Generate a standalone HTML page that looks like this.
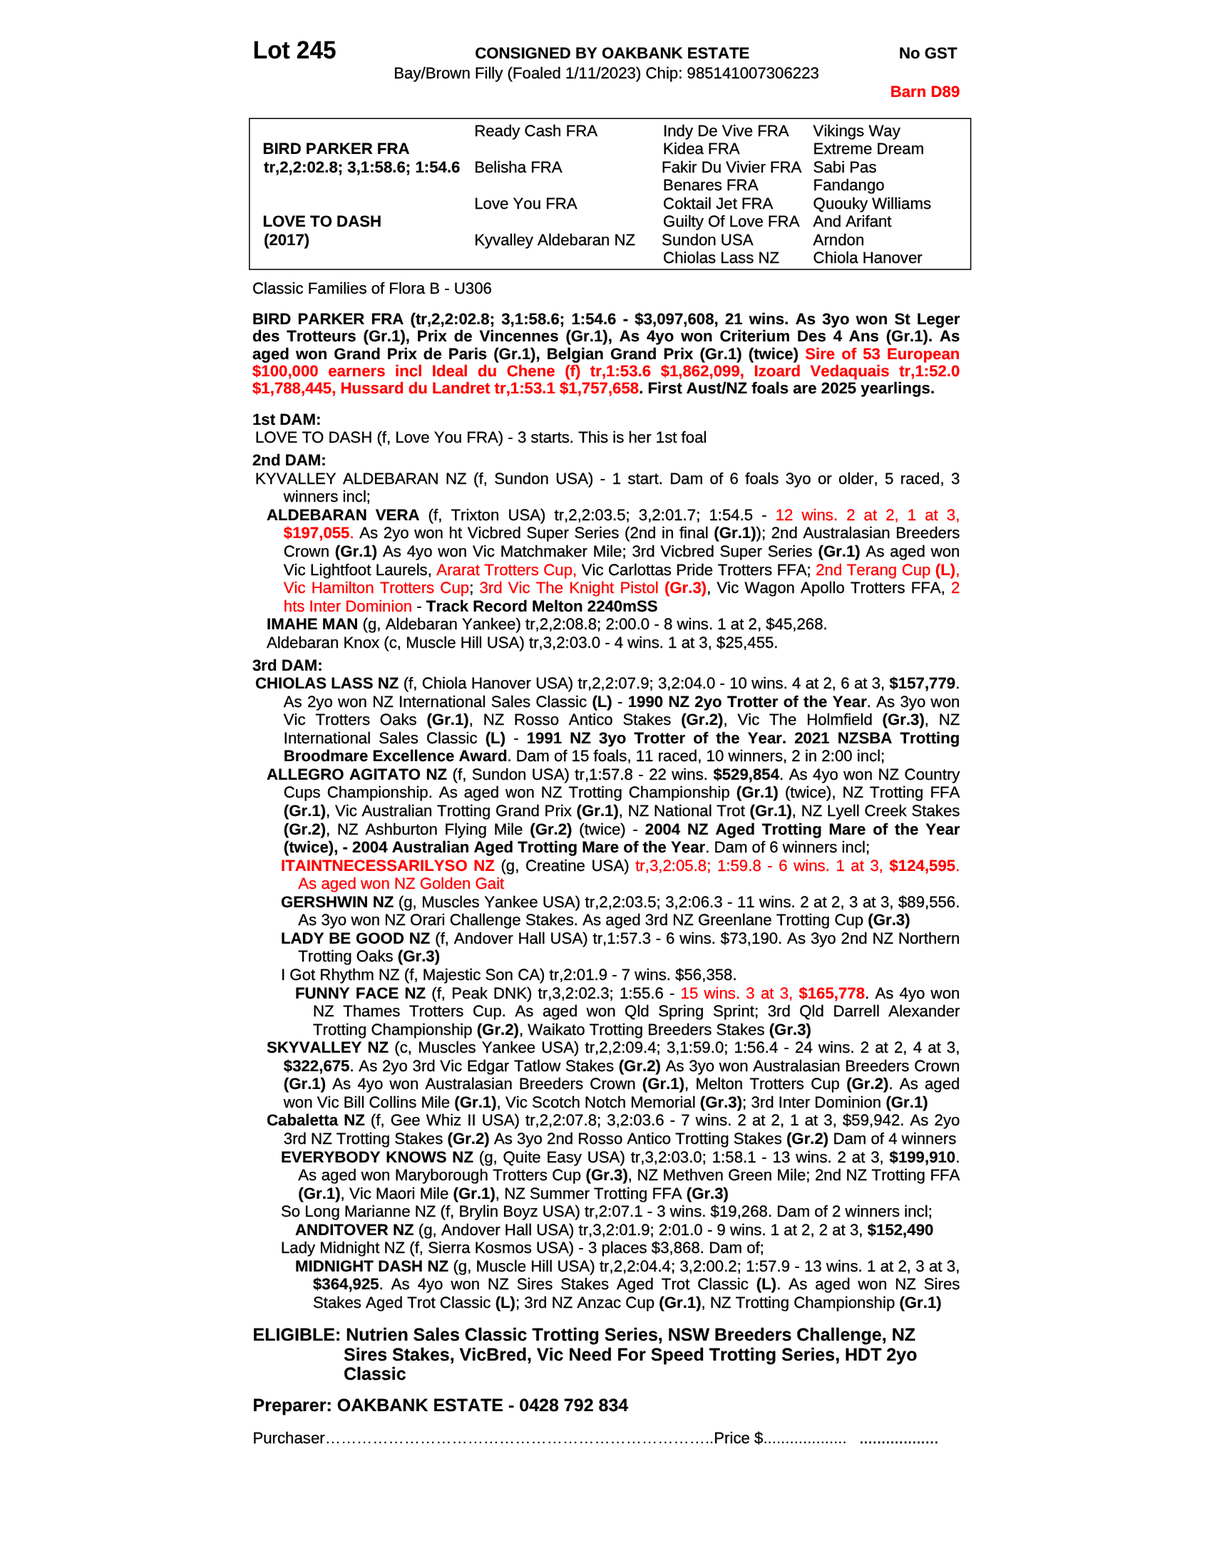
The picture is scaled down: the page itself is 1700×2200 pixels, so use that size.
<!DOCTYPE html>
<html lang="en">
<head>
<meta charset="utf-8">
<title>Lot 245 - Bay/Brown Filly - Consigned by Oakbank Estate</title>
<style>
html,body{margin:0;padding:0;background:#fff;}
body{width:1700px;height:2200px;position:relative;overflow:hidden;
 font-family:"Liberation Sans",sans-serif;font-size:22.2222px;color:#000;
 font-kerning:none;font-variant-ligatures:none;-webkit-font-smoothing:antialiased;text-rendering:geometricPrecision;}
#page{position:absolute;left:0;top:0;width:1700px;height:2200px;will-change:transform;}
.l{position:absolute;white-space:pre;line-height:30px;height:30px;margin:0;-webkit-text-stroke:0.3px;}
b{font-weight:bold;-webkit-text-stroke:0.2px;}
.r{color:#f00;}
.d{-webkit-text-stroke:0;}
.e{-webkit-text-stroke:0.4px;}
svg.box{position:absolute;left:0;top:0;width:1700px;height:420px;overflow:visible;pointer-events:none;}
</style>
</head>
<body>
<div id="page">
<svg class="box" width="1700" height="420" viewBox="0 0 1700 420"><rect x="349.83" y="166.25" width="1011.77" height="211.75" fill="none" stroke="#000" stroke-width="1.50"/></svg>
<div class="l" id="l0" style="left:354.80px;top:50px;font-size:33.3333px;line-height:44px;height:44px;transform:scaleY(1.05);transform-origin:0 32px;"><b>Lot 245</b></div>
<div class="l" id="l1" style="left:666.20px;top:60px;"><b>CONSIGNED BY OAKBANK ESTATE</b></div>
<div class="l" id="l2" style="left:1261.00px;top:60px;"><b>No GST</b></div>
<div class="l" id="l3" style="left:552.30px;top:88px;">Bay/Brown Filly (Foaled 1/11/2023) Chip: 985141007306223</div>
<div class="l" id="l4" style="left:1248.70px;top:114px;"><b class="r">Barn D89</b></div>
<div class="l" id="l5" style="left:368.40px;top:194px;"><b>BIRD PARKER FRA</b></div>
<div class="l" id="l6" style="left:370.00px;top:220px;"><b>tr,2,2:02.8; 3,1:58.6; 1:54.6</b></div>
<div class="l" id="l7" style="left:368.40px;top:296px;"><b>LOVE TO DASH</b></div>
<div class="l" id="l8" style="left:370.00px;top:322px;"><b>(2017)</b></div>
<div class="l" id="l9" style="left:665.20px;top:169px;">Ready Cash FRA</div>
<div class="l" id="l10" style="left:665.20px;top:220px;">Belisha FRA</div>
<div class="l" id="l11" style="left:665.20px;top:271px;">Love You FRA</div>
<div class="l" id="l12" style="left:665.20px;top:322px;">Kyvalley Aldebaran NZ</div>
<div class="l" id="l13" style="left:930.10px;top:169px;">Indy De Vive FRA</div>
<div class="l" id="l14" style="left:930.10px;top:194px;">Kidea FRA</div>
<div class="l" id="l15" style="left:928.10px;top:220px;">Fakir Du Vivier FRA</div>
<div class="l" id="l16" style="left:930.10px;top:245px;">Benares FRA</div>
<div class="l" id="l17" style="left:930.10px;top:271px;">Coktail Jet FRA</div>
<div class="l" id="l18" style="left:930.10px;top:296px;">Guilty Of Love FRA</div>
<div class="l" id="l19" style="left:928.10px;top:322px;">Sundon USA</div>
<div class="l" id="l20" style="left:930.10px;top:347px;">Chiolas Lass NZ</div>
<div class="l" id="l21" style="left:1140.60px;top:169px;">Vikings Way</div>
<div class="l" id="l22" style="left:1140.60px;top:194px;">Extreme Dream</div>
<div class="l" id="l23" style="left:1140.60px;top:220px;">Sabi Pas</div>
<div class="l" id="l24" style="left:1140.60px;top:245px;">Fandango</div>
<div class="l" id="l25" style="left:1140.60px;top:271px;">Quouky Williams</div>
<div class="l" id="l26" style="left:1140.60px;top:296px;">And Arifant</div>
<div class="l" id="l27" style="left:1140.60px;top:322px;">Arndon</div>
<div class="l" id="l28" style="left:1140.60px;top:347px;">Chiola Hanover</div>
<div class="l" id="l29" style="left:354.00px;top:390px;">Classic Families of Flora B - U306</div>
<div class="l" id="l30" style="left:354.00px;top:433px;word-spacing:3.058px;"><b>BIRD PARKER FRA (tr,2,2:02.8; 3,1:58.6; 1:54.6 - $3,097,608, 21 wins. As 3yo won St Leger</b></div>
<div class="l" id="l31" style="left:354.00px;top:457px;word-spacing:3.684px;"><b>des Trotteurs (Gr.1), Prix de Vincennes (Gr.1), As 4yo won Criterium Des 4 Ans (Gr.1). As</b></div>
<div class="l" id="l32" style="left:354.00px;top:482px;word-spacing:2.861px;"><b>aged won Grand Prix de Paris (Gr.1), Belgian Grand Prix (Gr.1) (twice) </b><b class="r">Sire of 53 European</b></div>
<div class="l" id="l33" style="left:354.00px;top:506px;word-spacing:7.363px;"><b class="r">$100,000 earners incl Ideal du Chene (f) tr,1:53.6 $1,862,099, Izoard Vedaquais tr,1:52.0</b></div>
<div class="l" id="l34" style="left:354.00px;top:530px;"><b class="r">$1,788,445, Hussard du Landret tr,1:53.1 $1,757,658</b><b>. First Aust/NZ foals are 2025 yearlings.</b></div>
<div class="l" id="l35" style="left:354.00px;top:574px;"><b>1st DAM:</b></div>
<div class="l" id="l36" style="left:358.00px;top:599px;">LOVE TO DASH (f, Love You FRA) - 3 starts. This is her 1st foal</div>
<div class="l" id="l37" style="left:354.00px;top:631px;"><b>2nd DAM:</b></div>
<div class="l" id="l38" style="left:358.00px;top:657px;word-spacing:3.251px;">KYVALLEY ALDEBARAN NZ (f, Sundon USA) - 1 start. Dam of 6 foals 3yo or older, 5 raced, 3</div>
<div class="l" id="l39" style="left:397.80px;top:682px;">winners incl;</div>
<div class="l" id="l40" style="left:374.00px;top:708px;word-spacing:5.899px;"><b>ALDEBARAN VERA</b> (f, Trixton USA) tr,2,2:03.5; 3,2:01.7; 1:54.5 - <span class="r">12 wins. 2 at 2, 1 at 3,</span></div>
<div class="l" id="l41" style="left:397.80px;top:733px;word-spacing:1.413px;"><b class="r">$197,055</b><span class="r">.</span> As 2yo won ht Vicbred Super Series (2nd in final <b>(Gr.1)</b>); 2nd Australasian Breeders</div>
<div class="l" id="l42" style="left:397.80px;top:759px;word-spacing:1.659px;">Crown <b>(Gr.1)</b> As 4yo won Vic Matchmaker Mile; 3rd Vicbred Super Series <b>(Gr.1)</b> As aged won</div>
<div class="l" id="l43" style="left:397.80px;top:785px;word-spacing:0.281px;">Vic Lightfoot Laurels, <span class="r">Ararat Trotters Cup,</span> Vic Carlottas Pride Trotters FFA; <span class="r">2nd Terang Cup </span><b class="r">(L)</b><span class="r">,</span></div>
<div class="l" id="l44" style="left:397.80px;top:810px;word-spacing:1.991px;"><span class="r">Vic Hamilton Trotters Cup</span>; <span class="r">3rd Vic The Knight Pistol </span><b class="r">(Gr.3)</b>, Vic Wagon Apollo Trotters FFA, <span class="r">2</span></div>
<div class="l" id="l45" style="left:397.80px;top:836px;"><span class="r">hts Inter Dominion</span> - <b>Track Record Melton 2240mSS</b></div>
<div class="l" id="l46" style="left:374.00px;top:861px;"><b>IMAHE MAN</b> (g, Aldebaran Yankee) tr,2,2:08.8; 2:00.0 - 8 wins. 1 at 2, $45,268.</div>
<div class="l" id="l47" style="left:374.00px;top:887px;">Aldebaran Knox (c, Muscle Hill USA) tr,3,2:03.0 - 4 wins. 1 at 3, $25,455.</div>
<div class="l" id="l48" style="left:354.00px;top:919px;"><b>3rd DAM:</b></div>
<div class="l" id="l49" style="left:358.00px;top:944px;word-spacing:0.091px;"><b>CHIOLAS LASS NZ</b> (f, Chiola Hanover USA) tr,2,2:07.9; 3,2:04.0 - 10 wins. 4 at 2, 6 at 3, <b>$157,779</b>.</div>
<div class="l" id="l50" style="left:397.80px;top:970px;word-spacing:1.110px;">As 2yo won NZ International Sales Classic <b>(L)</b> - <b>1990 NZ 2yo Trotter of the Year</b>. As 3yo won</div>
<div class="l" id="l51" style="left:397.80px;top:995px;word-spacing:7.622px;">Vic Trotters Oaks <b>(Gr.1)</b>, NZ Rosso Antico Stakes <b>(Gr.2)</b>, Vic The Holmfield <b>(Gr.3)</b>, NZ</div>
<div class="l" id="l52" style="left:397.80px;top:1021px;word-spacing:4.963px;">International Sales Classic <b>(L)</b> - <b>1991 NZ 3yo Trotter of the Year. 2021 NZSBA Trotting</b></div>
<div class="l" id="l53" style="left:397.80px;top:1046px;"><b>Broodmare Excellence Award</b>. Dam of 15 foals, 11 raced, 10 winners, 2 in 2:00 incl;</div>
<div class="l" id="l54" style="left:374.00px;top:1072px;word-spacing:1.274px;"><b>ALLEGRO AGITATO NZ</b> (f, Sundon USA) tr,1:57.8 - 22 wins. <b>$529,854</b>. As 4yo won NZ Country</div>
<div class="l" id="l55" style="left:397.80px;top:1097px;word-spacing:2.797px;">Cups Championship. As aged won NZ Trotting Championship <b>(Gr.1)</b> (twice), NZ Trotting FFA</div>
<div class="l" id="l56" style="left:397.80px;top:1123px;word-spacing:0.548px;"><b>(Gr.1)</b>, Vic Australian Trotting Grand Prix <b>(Gr.1)</b>, NZ National Trot <b>(Gr.1)</b>, NZ Lyell Creek Stakes</div>
<div class="l" id="l57" style="left:397.80px;top:1149px;word-spacing:3.647px;"><b>(Gr.2)</b>, NZ Ashburton Flying Mile <b>(Gr.2)</b> (twice) - <b>2004 NZ Aged Trotting Mare of the Year</b></div>
<div class="l" id="l58" style="left:397.80px;top:1174px;"><b>(twice), - 2004 Australian Aged Trotting Mare of the Year</b>. Dam of 6 winners incl;</div>
<div class="l" id="l59" style="left:394.00px;top:1200px;word-spacing:2.394px;"><b class="r">ITAINTNECESSARILYSO NZ</b> (g, Creatine USA) <span class="r">tr,3,2:05.8; 1:59.8 - 6 wins. 1 at 3, </span><b class="r">$124,595</b><span class="r">.</span></div>
<div class="l" id="l60" style="left:418.30px;top:1225px;"><span class="r">As aged won NZ Golden Gait</span></div>
<div class="l" id="l61" style="left:394.00px;top:1251px;word-spacing:0.305px;"><b>GERSHWIN NZ</b> (g, Muscles Yankee USA) tr,2,2:03.5; 3,2:06.3 - 11 wins. 2 at 2, 3 at 3, $89,556.</div>
<div class="l" id="l62" style="left:418.30px;top:1276px;">As 3yo won NZ Orari Challenge Stakes. As aged 3rd NZ Greenlane Trotting Cup <b>(Gr.3)</b></div>
<div class="l" id="l63" style="left:394.00px;top:1302px;word-spacing:0.673px;"><b>LADY BE GOOD NZ</b> (f, Andover Hall USA) tr,1:57.3 - 6 wins. $73,190. As 3yo 2nd NZ Northern</div>
<div class="l" id="l64" style="left:418.30px;top:1327px;">Trotting Oaks <b>(Gr.3)</b></div>
<div class="l" id="l65" style="left:394.00px;top:1353px;">I Got Rhythm NZ (f, Majestic Son CA) tr,2:01.9 - 7 wins. $56,358.</div>
<div class="l" id="l66" style="left:414.00px;top:1379px;word-spacing:2.034px;"><b>FUNNY FACE NZ</b> (f, Peak DNK) tr,3,2:02.3; 1:55.6 - <span class="r">15 wins. 3 at 3, </span><b class="r">$165,778</b>. As 4yo won</div>
<div class="l" id="l67" style="left:439.00px;top:1404px;word-spacing:6.346px;">NZ Thames Trotters Cup. As aged won Qld Spring Sprint; 3rd Qld Darrell Alexander</div>
<div class="l" id="l68" style="left:439.00px;top:1430px;">Trotting Championship <b>(Gr.2)</b>, Waikato Trotting Breeders Stakes <b>(Gr.3)</b></div>
<div class="l" id="l69" style="left:374.00px;top:1455px;word-spacing:1.990px;"><b>SKYVALLEY NZ</b> (c, Muscles Yankee USA) tr,2,2:09.4; 3,1:59.0; 1:56.4 - 24 wins. 2 at 2, 4 at 3,</div>
<div class="l" id="l70" style="left:397.80px;top:1481px;word-spacing:0.536px;"><b>$322,675</b>. As 2yo 3rd Vic Edgar Tatlow Stakes <b>(Gr.2)</b> As 3yo won Australasian Breeders Crown</div>
<div class="l" id="l71" style="left:397.80px;top:1506px;word-spacing:3.053px;"><b>(Gr.1)</b> As 4yo won Australasian Breeders Crown <b>(Gr.1)</b>, Melton Trotters Cup <b>(Gr.2)</b>. As aged</div>
<div class="l" id="l72" style="left:397.80px;top:1532px;">won Vic Bill Collins Mile <b>(Gr.1)</b>, Vic Scotch Notch Memorial <b>(Gr.3)</b>; 3rd Inter Dominion <b>(Gr.1)</b></div>
<div class="l" id="l73" style="left:374.00px;top:1557px;word-spacing:1.938px;"><b>Cabaletta NZ</b> (f, Gee Whiz II USA) tr,2,2:07.8; 3,2:03.6 - 7 wins. 2 at 2, 1 at 3, $59,942. As 2yo</div>
<div class="l" id="l74" style="left:397.80px;top:1583px;">3rd NZ Trotting Stakes <b>(Gr.2)</b> As 3yo 2nd Rosso Antico Trotting Stakes <b>(Gr.2)</b> Dam of 4 winners</div>
<div class="l" id="l75" style="left:394.00px;top:1609px;word-spacing:1.663px;"><b>EVERYBODY KNOWS NZ</b> (g, Quite Easy USA) tr,3,2:03.0; 1:58.1 - 13 wins. 2 at 3, <b>$199,910</b>.</div>
<div class="l" id="l76" style="left:418.30px;top:1634px;word-spacing:0.315px;">As aged won Maryborough Trotters Cup <b>(Gr.3)</b>, NZ Methven Green Mile; 2nd NZ Trotting FFA</div>
<div class="l" id="l77" style="left:418.30px;top:1660px;"><b>(Gr.1)</b>, Vic Maori Mile <b>(Gr.1)</b>, NZ Summer Trotting FFA <b>(Gr.3)</b></div>
<div class="l" id="l78" style="left:394.00px;top:1685px;">So Long Marianne NZ (f, Brylin Boyz USA) tr,2:07.1 - 3 wins. $19,268. Dam of 2 winners incl;</div>
<div class="l" id="l79" style="left:414.00px;top:1711px;"><b>ANDITOVER NZ</b> (g, Andover Hall USA) tr,3,2:01.9; 2:01.0 - 9 wins. 1 at 2, 2 at 3, <b>$152,490</b></div>
<div class="l" id="l80" style="left:394.00px;top:1736px;">Lady Midnight NZ (f, Sierra Kosmos USA) - 3 places $3,868. Dam of;</div>
<div class="l" id="l81" style="left:414.00px;top:1762px;word-spacing:0.142px;"><b>MIDNIGHT DASH NZ</b> (g, Muscle Hill USA) tr,2,2:04.4; 3,2:00.2; 1:57.9 - 13 wins. 1 at 2, 3 at 3,</div>
<div class="l" id="l82" style="left:439.00px;top:1787px;word-spacing:4.757px;"><b>$364,925</b>. As 4yo won NZ Sires Stakes Aged Trot Classic <b>(L)</b>. As aged won NZ Sires</div>
<div class="l" id="l83" style="left:439.00px;top:1813px;">Stakes Aged Trot Classic <b>(L)</b>; 3rd NZ Anzac Cup <b>(Gr.1)</b>, NZ Trotting Championship <b>(Gr.1)</b></div>
<div class="l" id="l84" style="left:354.60px;top:1858px;font-size:25.0000px;"><b>ELIGIBLE: Nutrien Sales Classic Trotting Series, NSW Breeders Challenge, NZ</b></div>
<div class="l" id="l85" style="left:482.00px;top:1886px;font-size:25.0000px;"><b>Sires Stakes, VicBred, Vic Need For Speed Trotting Series, HDT 2yo</b></div>
<div class="l" id="l86" style="left:482.00px;top:1913px;font-size:25.0000px;"><b>Classic</b></div>
<div class="l" id="l87" style="left:354.60px;top:1957px;font-size:25.0000px;"><b>Preparer: OAKBANK ESTATE - 0428 792 834</b></div>
<div class="l" id="l88" style="left:354.40px;top:2003px;">Purchaser<span class="d">………………………………………………………………..</span>Price $<span class="d">...................</span></div>
<div class="l" id="l89" style="left:1205.20px;top:2003px;"><span class="e">..................</span></div>
</div>
</body>
</html>
